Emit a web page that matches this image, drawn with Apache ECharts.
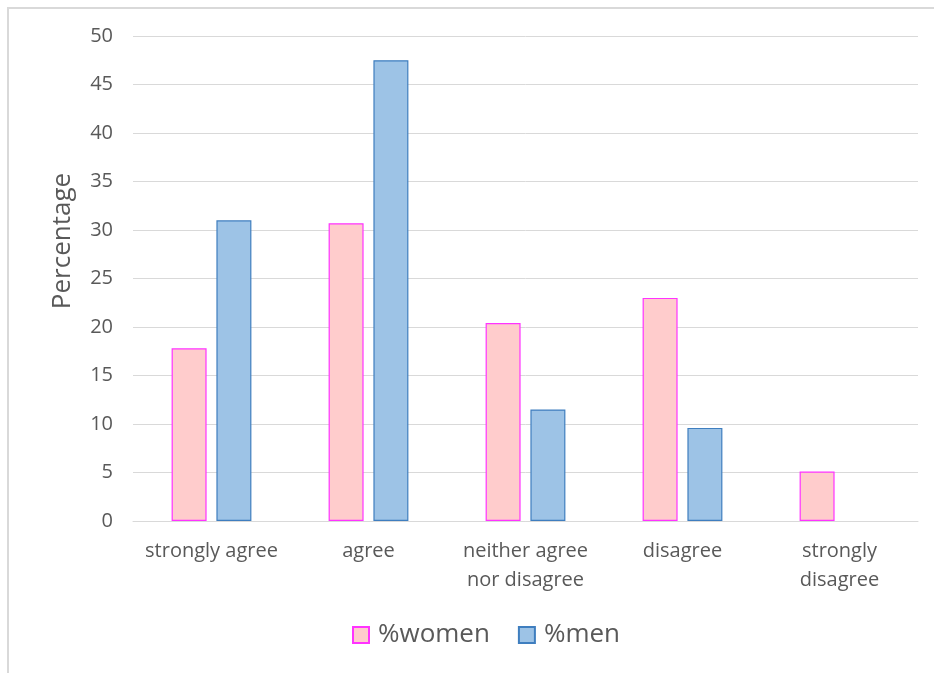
<!DOCTYPE html>
<html>
<head>
<meta charset="utf-8">
<script src="https://cdn.jsdelivr.net/npm/echarts@6/dist/echarts.min.js"></script>
<style>
  html, body { margin: 0; padding: 0; background: #fff; }
  #chart { width: 934px; height: 673px; }
</style>
</head>
<body>
<div id="chart"></div>
<script>
// Survey responses by gender (percent)
const categories = ['strongly agree', 'agree', 'neither agree\nnor disagree', 'disagree', 'strongly\ndisagree'];
const women = [17.8, 30.7, 20.4, 23.0, 5.1];
const men = [31.0, 47.5, 11.5, 9.6, 0];
const yTicks = { min: 0, max: 50, interval: 5 };

const font = 'Open Sans, Noto Sans, sans-serif';
const textColor = '#595959';

// zero-height bars get no outline
function barData(values) {
  return values.map(v => v === 0 ? { value: v, itemStyle: { borderWidth: 0 } } : v);
}

const chart = echarts.init(document.getElementById('chart'), null, { renderer: 'canvas' });
chart.setOption({
  animation: false,
  backgroundColor: '#ffffff',
  graphic: [
    {
      type: 'rect',
      shape: { x: 8, y: 8, width: 940, height: 680 },
      style: { fill: 'none', stroke: '#d9d9d9', lineWidth: 2 },
      silent: true
    },
    {
      type: 'text',
      x: 63,
      y: 241,
      rotation: Math.PI / 2,
      style: {
        text: 'Percentage',
        fill: textColor,
        font: '26px ' + font,
        align: 'center',
        verticalAlign: 'middle'
      },
      silent: true
    }
  ],
  grid: { left: 133, right: 16, top: 36, bottom: 152 },
  legend: {
    bottom: 20,
    left: 347,
    icon: 'rect',
    itemWidth: 16,
    itemHeight: 16,
    itemGap: 28,
    textStyle: { color: textColor, fontSize: 26, fontFamily: font, padding: [0, 0, 0, 4] },
    data: ['%women', '%men']
  },
  xAxis: {
    type: 'category',
    data: categories,
    axisLine: { lineStyle: { color: '#d9d9d9', width: 1 } },
    axisTick: { show: false },
    axisLabel: {
      color: textColor, fontSize: 20, fontFamily: font,
      lineHeight: 29, margin: 16, interval: 0
    }
  },
  yAxis: {
    type: 'value',
    min: yTicks.min,
    max: yTicks.max,
    interval: yTicks.interval,
    axisLine: { show: false },
    axisTick: { show: false },
    axisLabel: { color: textColor, fontSize: 20, fontFamily: font, margin: 20 },
    splitLine: { lineStyle: { color: '#d9d9d9', width: 1 } }
  },
  series: [
    {
      name: '%women',
      type: 'bar',
      data: barData(women),
      barWidth: 35,
      barGap: '28%',
      itemStyle: { color: '#FFCCCC', borderColor: '#FF33FF', borderWidth: 1.2 }
    },
    {
      name: '%men',
      type: 'bar',
      data: barData(men),
      barWidth: 35,
      barGap: '28%',
      itemStyle: { color: '#9DC3E6', borderColor: '#3F7EBF', borderWidth: 1.2 }
    }
  ]
});
</script>
</body>
</html>
